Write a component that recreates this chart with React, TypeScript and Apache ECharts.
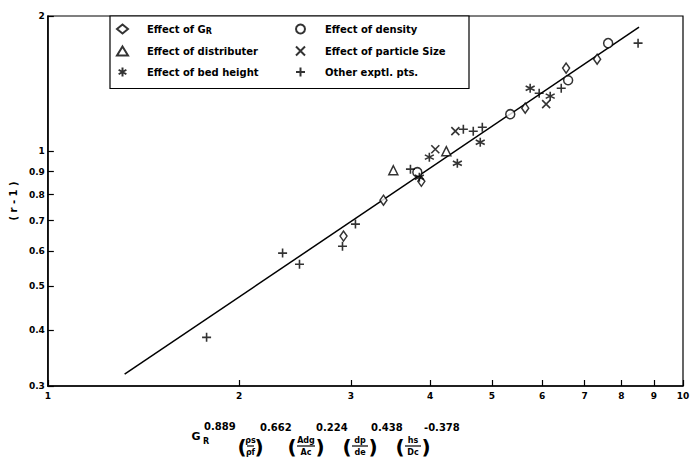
import React, { useEffect, useRef } from 'react';
import * as echarts from 'echarts';

const xTicks = [1, 2, 3, 4, 5, 6, 7, 8, 9, 10];
const yTicks = [0.3, 0.4, 0.5, 0.6, 0.7, 0.8, 0.9, 1, 2];

const effectGR = [[2.921, 0.647], [3.376, 0.778], [3.873, 0.857], [5.644, 1.247], [6.546, 1.531], [7.325, 1.603]];
const effectDensity = [[3.817, 0.898], [5.346, 1.209], [6.594, 1.439], [7.623, 1.74]];
const effectDistributer = [[3.499, 0.907], [4.24, 1.0]];
const effectParticleSize = [[4.074, 1.01], [4.381, 1.108], [6.089, 1.273]];
const effectBedHeight = [[3.987, 0.97], [3.845, 0.875], [4.413, 0.94], [4.795, 1.047], [5.746, 1.381], [6.179, 1.326]];
const otherPts = [[1.778, 0.385], [2.342, 0.593], [2.49, 0.56], [2.91, 0.614], [3.05, 0.688], [3.723, 0.912], [4.51, 1.119], [4.675, 1.108], [4.831, 1.131], [5.937, 1.346], [6.431, 1.381], [8.497, 1.74]];
const correlationLine = [[1.321, 0.3187], [8.527, 1.889]];

const FONT = 'DejaVu Sans';
const CROSS = 'path://M0,0L10,10M10,0L0,10';
const PLUS = 'path://M5,0L5,10M0,5L10,5';
const STAR = 'path://M5,0L5,10M0.7,2.5L9.3,7.5M0.7,7.5L9.3,2.5';

const hollow = { color: '#fff', borderColor: '#000', borderWidth: 1.5 };
const stroked = { color: 'transparent', borderColor: '#000', borderWidth: 1.6 };

function txt(px: number, py: number, s: string, size: number, align = 'center') {
  return {
    type: 'text', x: px, y: py,
    style: { text: s, fontFamily: FONT, fontWeight: 'bold', fontSize: size, fill: '#000', align, verticalAlign: 'middle' },
  };
}

function fracGroup(x: number, w: number, num: string, den: string, exp: string, expX: number) {
  const c = x + w / 2;
  return [
    txt(x, 447, '(', 20),
    txt(c, 440, num, 8),
    { type: 'line', shape: { x1: c - w / 2 + 5, y1: 446, x2: c + w / 2 - 5, y2: 446 }, style: { stroke: '#000', lineWidth: 1.2 } },
    txt(c, 452, den, 8),
    txt(x + w, 447, ')', 20),
    txt(expX, 427, exp, 10, 'left'),
  ];
}

export default function App() {
  const ref = useRef<HTMLDivElement>(null);
  useEffect(() => {
    if (!ref.current) return;
    const chart = echarts.init(ref.current, null, { renderer: 'svg' });
    const axisText = { fontFamily: FONT, fontWeight: 'bold', fontSize: 9, color: '#000' };
    const names = ['Effect of GR', 'Effect of density', 'Effect of distributer', 'Effect of particle Size', 'Effect of bed height', 'Other exptl. pts.'];
    chart.setOption({
      animation: false,
      backgroundColor: '#fff',
      grid: { left: 47, right: 17, top: 16, bottom: 75, show: true, borderColor: '#000', borderWidth: 1.2 },
      legend: {
        data: names,
        left: 110, top: 16, width: 400,
        orient: 'horizontal',
        padding: [7, 6, 11, 6],
        itemGap: 10, itemWidth: 11, itemHeight: 9,
        borderColor: '#000', borderWidth: 1.2, backgroundColor: '#fff',
        formatter: (n: string) => (n === 'Effect of GR' ? 'Effect of G{sub|R}' : n),
        textStyle: {
          fontFamily: FONT, fontWeight: 'bold', fontSize: 10, color: '#000',
          width: 138, padding: [0, 0, 0, 14], lineHeight: 9,
          rich: { sub: { fontFamily: FONT, fontWeight: 'bold', fontSize: 8, lineHeight: 9, padding: [4, 0, 0, 0] } },
        },
      },
      xAxis: {
        type: 'log', min: 1, max: 10, logBase: 10,
        axisLine: { lineStyle: { color: '#000', width: 1.5 } },
        axisTick: { inside: true, length: 6, customValues: xTicks, lineStyle: { color: '#000', width: 1.2 } },
        axisLabel: { ...axisText, margin: 5, customValues: xTicks, formatter: (v: number) => String(Math.round(v)) },
        splitLine: { show: false },
        minorTick: { show: false },
      },
      yAxis: {
        type: 'log', min: 0.3, max: 2, logBase: 10,
        name: '( r - 1 )', nameLocation: 'middle', nameGap: 22, nameRotate: 90,
        nameTextStyle: { fontFamily: FONT, fontWeight: 'bold', fontSize: 10, color: '#000' },
        axisLine: { lineStyle: { color: '#000', width: 1.5 } },
        axisTick: { inside: true, length: 6, customValues: yTicks, lineStyle: { color: '#000', width: 1.2 } },
        axisLabel: { ...axisText, margin: 3, customValues: yTicks, formatter: (v: number) => String(Math.round(v * 10) / 10) },
        splitLine: { show: false },
      },
      series: [
        { name: 'Effect of GR', type: 'scatter', data: effectGR, symbol: 'diamond', symbolSize: [7, 10], itemStyle: hollow },
        { name: 'Effect of density', type: 'scatter', data: effectDensity, symbol: 'circle', symbolSize: 9, itemStyle: hollow },
        { name: 'Effect of distributer', type: 'scatter', data: effectDistributer, symbol: 'triangle', symbolSize: 9, itemStyle: hollow },
        { name: 'Effect of particle Size', type: 'scatter', data: effectParticleSize, symbol: CROSS, symbolSize: 8, itemStyle: stroked },
        { name: 'Effect of bed height', type: 'scatter', data: effectBedHeight, symbol: STAR, symbolSize: 9, itemStyle: stroked },
        { name: 'Other exptl. pts.', type: 'scatter', data: otherPts, symbol: PLUS, symbolSize: 9, itemStyle: stroked },
        { name: 'Correlation', type: 'line', data: correlationLine, symbol: 'none', lineStyle: { color: '#000', width: 1.5 }, silent: true, z: 1 },
      ],
      graphic: [
        txt(196, 436, 'G', 11),
        txt(206, 441, 'R', 8),
        txt(204, 426, '0.889', 10, 'left'),
        ...fracGroup(242, 17, 'ρs', 'ρf', '0.662', 260),
        ...fracGroup(292, 28, 'Adg', 'Ac', '0.224', 316),
        ...fracGroup(347, 26, 'dp', 'de', '0.438', 371),
        ...fracGroup(400, 26, 'hs', 'Dc', '-0.378', 424),
      ],
    });
    return () => chart.dispose();
  }, []);
  return <div ref={ref} style={{ position: 'absolute', left: 0, top: 0, width: 700, height: 461 }} />;
}
